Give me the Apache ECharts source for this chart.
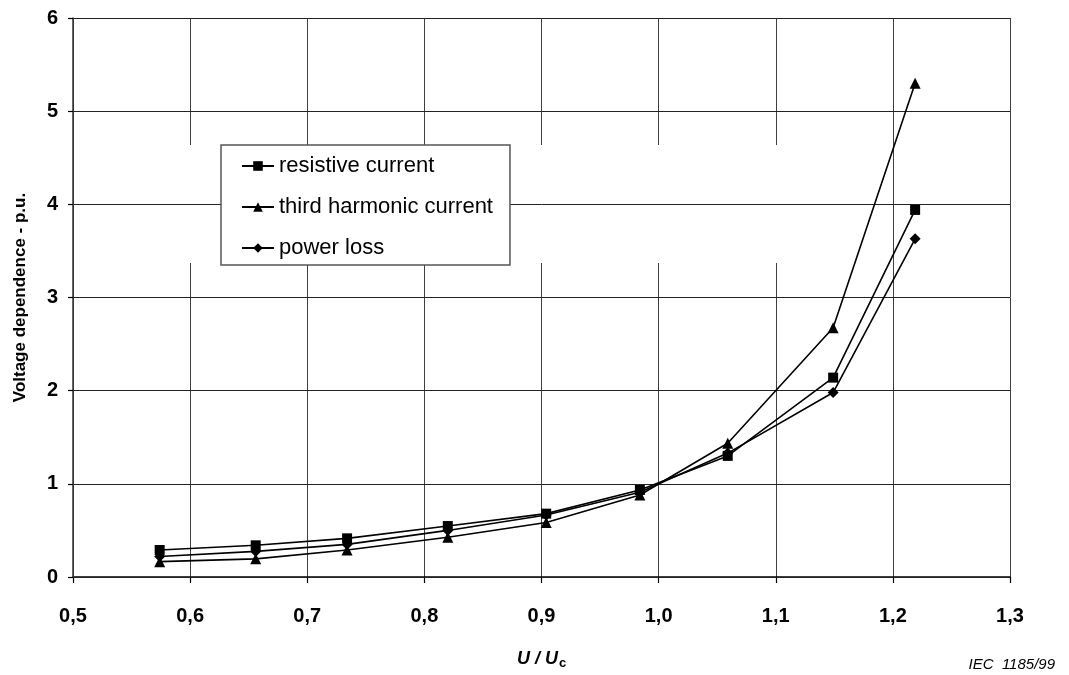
<!DOCTYPE html>
<html>
<head>
<meta charset="utf-8">
<script src="https://cdn.jsdelivr.net/npm/echarts@6/dist/echarts.min.js"></script>
<style>
html,body{margin:0;padding:0;background:#fff;}
#chart{width:1069px;height:675px;}
</style>
</head>
<body>
<div id="chart"></div>
<script>
const xValues = [0.574, 0.656, 0.734, 0.820, 0.904, 0.984, 1.059, 1.149, 1.219];
const resistiveCurrent = [0.29, 0.34, 0.415, 0.547, 0.68, 0.934, 1.30, 2.14, 3.94];
const thirdHarmonicCurrent = [0.165, 0.195, 0.29, 0.426, 0.585, 0.88, 1.435, 2.676, 5.30];
const powerLoss = [0.22, 0.275, 0.35, 0.50, 0.665, 0.91, 1.33, 1.98, 3.63];
const seriesNames = ['resistive current', 'third harmonic current', 'power loss'];
const xTicks = { min: 0.5, max: 1.3, interval: 0.1 };
const yTicks = { min: 0, max: 6, interval: 1 };

const FONT = '"Liberation Sans", Arial, sans-serif';
const pairs = arr => xValues.map((x, i) => [x, arr[i]]);

function mkSeries(name, data, symbol, size) {
  return {
    name: name,
    type: 'line',
    data: pairs(data),
    symbol: symbol,
    symbolSize: size,
    z: 5,
    lineStyle: { color: '#000', width: 1.6 },
    itemStyle: { color: '#000', borderWidth: 0 },
    emphasis: { disabled: true },
    animation: false
  };
}

const chart = echarts.init(document.getElementById('chart'), null, { renderer: 'canvas' });
chart.setOption({
  animation: false,
  backgroundColor: '#fff',
  grid: { left: 73, right: 59, top: 18, bottom: 98, containLabel: false },
  xAxis: {
    type: 'value',
    z: 0,
    min: xTicks.min, max: xTicks.max, interval: xTicks.interval,
    name: '{i|U / U}{s|c}',
    nameLocation: 'middle',
    nameGap: 72,
    nameTextStyle: {
      rich: {
        i: { fontFamily: FONT, fontWeight: 'bold', fontStyle: 'italic', fontSize: 18, color: '#000' },
        s: { fontFamily: FONT, fontWeight: 'bold', fontSize: 13, color: '#000', padding: [8, 0, 0, 1] }
      }
    },
    axisLine: { onZero: false, lineStyle: { color: '#000', width: 1.5 } },
    axisTick: { show: true, length: 6, lineStyle: { color: '#000', width: 1.2 } },
    axisLabel: {
      margin: 29, color: '#000', fontFamily: FONT, fontWeight: 'bold', fontSize: 20,
      formatter: v => v.toFixed(1).replace('.', ',')
    },
    splitLine: { show: true, lineStyle: { color: '#404040', width: 1 } }
  },
  yAxis: {
    type: 'value',
    z: 2,
    min: yTicks.min, max: yTicks.max, interval: yTicks.interval,
    name: 'Voltage dependence - p.u.',
    nameLocation: 'middle',
    nameGap: 44,
    nameTextStyle: { fontFamily: FONT, fontWeight: 'bold', fontSize: 17, color: '#000' },
    axisLine: { show: true, lineStyle: { color: '#333', width: 1.5 } },
    axisTick: { show: true, length: 5, lineStyle: { color: '#000', width: 1.2 } },
    axisLabel: {
      margin: 15, color: '#000', fontFamily: FONT, fontWeight: 'bold', fontSize: 20,
      formatter: v => String(v)
    },
    splitLine: { show: true, lineStyle: { color: '#222', width: 1 } }
  },
  legend: {
    z: 10,
    orient: 'vertical',
    left: 221,
    top: 145,
    padding: [10, 17, 6, 20],
    itemGap: 19,
    itemWidth: 32,
    itemHeight: 12,
    backgroundColor: '#fff',
    borderColor: '#555',
    borderWidth: 1.5,
    borderRadius: 0,
    data: seriesNames,
    textStyle: { fontFamily: FONT, fontSize: 22, color: '#000', lineHeight: 22 }
  },
  graphic: [
    {
      type: 'rect', z: 1, silent: true,
      shape: { x: 75, y: 145, width: 765, height: 118 },
      style: { fill: '#fff' }
    },
    {
      type: 'text', z: 10, silent: true,
      right: 14, bottom: 3,
      style: { text: 'IEC  1185/99', font: 'italic 15px ' + FONT, fill: '#000' }
    }
  ],
  series: [
    mkSeries(seriesNames[0], resistiveCurrent, 'rect', 10),
    mkSeries(seriesNames[1], thirdHarmonicCurrent, 'triangle', 11),
    mkSeries(seriesNames[2], powerLoss, 'diamond', 11)
  ]
});
</script>
</body>
</html>
